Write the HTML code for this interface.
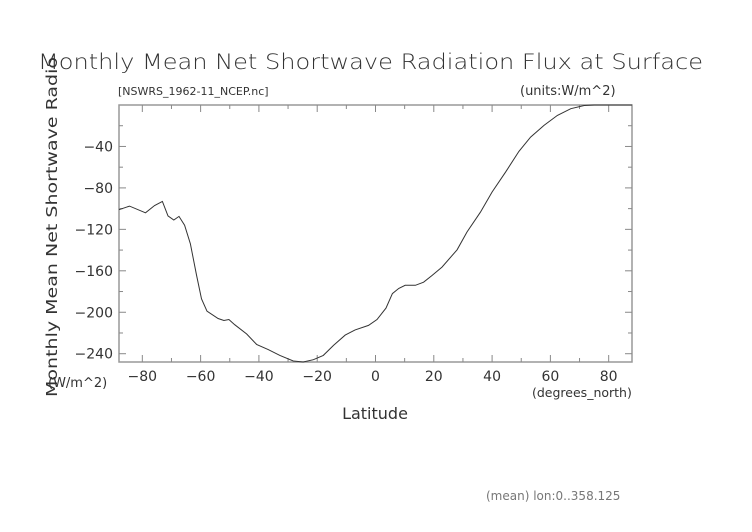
<!DOCTYPE html>
<html><head><meta charset="utf-8"><style>
body{margin:0;background:#fff;width:752px;height:532px;overflow:hidden}
svg{display:block;font-family:"DejaVu Sans","Liberation Sans",sans-serif}
text{fill:#333}
</style></head><body>
<svg id="chart" width="752" height="532">
<text x="38" y="69" font-size="21" textLength="665" lengthAdjust="spacingAndGlyphs" style="font-weight:200">Monthly Mean Net Shortwave Radiation Flux at Surface</text>
<text x="118" y="95" font-size="11">[NSWRS_1962-11_NCEP.nc]</text>
<text x="520" y="95" font-size="13">(units:W/m^2)</text>
<text transform="translate(57,397) rotate(-90)" font-size="15" textLength="340" lengthAdjust="spacingAndGlyphs">Monthly Mean Net Shortwave Radio</text>
<text x="48" y="387" font-size="13">(W/m^2)</text>
<text x="375" y="419" font-size="16" text-anchor="middle">Latitude</text>
<text x="532" y="397" font-size="12.5">(degrees_north)</text>
<text x="486" y="500" font-size="12" style="fill:#777">(mean) lon:0..358.125</text>
<g id="axes"></g>
<path id="line" fill="none" stroke="#333" stroke-width="1"/>
</svg>
<script>
const lats=[-88,-84.4,-78.9,-75.8,-73.1,-71.2,-69.2,-67.4,-65.5,-63.5,-61.4,-59.7,-57.8,-54,-52,-50.3,-48.3,-44.2,-40.8,-36.8,-32.8,-28.2,-24.8,-21.3,-17.9,-14.4,-10.4,-7,-2.4,0.5,3.6,5.8,8,10.2,13.7,16.5,19.4,22.8,28,31.4,36,40,44.6,49.2,53.2,57.8,62.4,67,71.6,75,80,88];
const values=[-101,-97.6,-104,-97,-93,-107,-111,-107.5,-116,-134,-164,-187,-199,-206,-208,-207,-212,-221,-231,-236,-241.6,-247,-248,-245.8,-241.6,-232,-222,-217,-212.7,-207,-196,-182,-177,-174,-174,-171,-164.5,-156.4,-139.7,-122.6,-103.4,-84,-64.8,-44.8,-31,-19.7,-10,-3.6,-0.5,0,0,0];
const xTicks=[-80,-60,-40,-20,0,20,40,60,80];
const yTicks=[-40,-80,-120,-160,-200,-240];
const X0=119,X1=632,Y0=105,Y1=362,xmin=-88,xmax=88,ymax=0,ymin=-248;
const sx=v=>X0+(v-xmin)/(xmax-xmin)*(X1-X0);
const sy=v=>Y0+(ymax-v)/(ymax-ymin)*(Y1-Y0);
const NS='http://www.w3.org/2000/svg';
const ax=document.getElementById('axes');
function mk(t,a){const e=document.createElementNS(NS,t);for(const k in a)e.setAttribute(k,a[k]);ax.appendChild(e);return e;}
const fr=mk('rect',{x:X0,y:Y0,width:X1-X0,height:Y1-Y0,fill:'none',stroke:'#999','stroke-width':1.5});


for(let v=-80;v<=80;v+=10){const big=v%20===0;const x=sx(v);
mk('line',{x1:x,x2:x,y1:Y1,y2:Y1-(big?7:4),stroke:'#888'});mk('line',{x1:x,x2:x,y1:Y0,y2:Y0+(big?7:4),stroke:'#888'});}
for(let v=-20;v>=-240;v-=20){const big=v%40===0;const y=sy(v);
mk('line',{x1:X0,x2:X0+(big?7:4),y1:y,y2:y,stroke:'#888'});mk('line',{x1:X1,x2:X1-(big?7:4),y1:y,y2:y,stroke:'#888'});}
xTicks.forEach(v=>{const t=mk('text',{x:sx(v),y:381,'font-size':14,'text-anchor':'middle'});t.textContent=(v<0?'\u2212':'')+Math.abs(v);

});
yTicks.forEach(v=>{const t=mk('text',{x:113,y:sy(v)+5,'font-size':14,'text-anchor':'end'});t.textContent='\u2212'+Math.abs(v);

});
document.getElementById('line').setAttribute('d',lats.map((l,i)=>(i?'L':'M')+sx(l).toFixed(1)+','+sy(Math.max(values[i],ymin)).toFixed(1)).join(''));
</script>
</body></html>
